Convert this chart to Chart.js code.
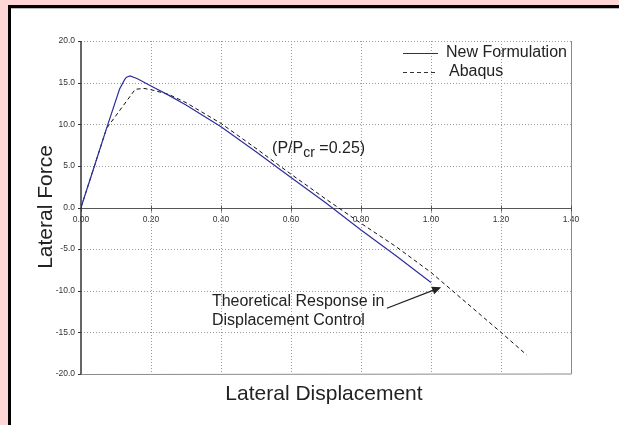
<!DOCTYPE html>
<html>
<head>
<meta charset="utf-8">
<script src="https://cdn.jsdelivr.net/npm/chart.js@4"></script>
<style>
  html, body { margin: 0; padding: 0; background: #ffd6d6; overflow: hidden; }
  #frame {
    position: absolute; left: 8px; top: 5px; width: 700px; height: 500px;
    background: #fff; border-top: 3px solid #000; border-left: 3px solid #000;
    box-shadow: inset 0 1px 0 #bbb;
  }
  #wrap { position: absolute; left: 0; top: 0; width: 619px; height: 425px; }
</style>
</head>
<body>
<div id="frame"></div>
<div id="wrap"><canvas id="chart" width="619" height="425"></canvas></div>
<script>
'use strict';

// displacement / force pairs for both analyses
var newFormX = [0, 0.04, 0.073, 0.11, 0.12, 0.125, 0.13, 0.14, 0.16, 0.2, 0.25, 0.3, 0.4, 0.5, 0.6, 0.7, 0.8, 0.9, 1.0];
var newFormY = [0, 5.2, 9.5, 14.2, 15.0, 15.4, 15.65, 15.8, 15.5, 14.6, 13.5, 12.3, 9.7, 6.7, 3.6, 0.55, -2.7, -5.8, -9.0];

var abaqusX = [0, 0.04, 0.073, 0.155, 0.18, 0.2, 0.25, 0.3, 0.4, 0.5, 0.6, 0.7, 0.8, 0.9, 1.0, 1.1, 1.2, 1.273];
var abaqusY = [0, 5.2, 9.5, 14.2, 14.3, 14.15, 13.6, 12.6, 10.1, 7.1, 4.0, 1.0, -1.9, -4.7, -7.8, -11.4, -15.0, -17.7];

var xTicks = [0, 0.2, 0.4, 0.6, 0.8, 1.0, 1.2, 1.4];
var yTicks = [-20, -15, -10, -5, 0, 5, 10, 15, 20];

var FONT = '"Liberation Sans", Arial, Helvetica, sans-serif';

function toPoints(xs, ys) {
    return xs.map(function (x, i) { return { x: x, y: ys[i] }; });
}

// dotted grid, plot border, tick marks across the zero line
var gridPlugin = {
    id: 'gridPlugin',
    beforeDatasetsDraw: function (chart) {
        var ctx = chart.ctx, a = chart.chartArea;
        var xs = chart.scales.x, ys = chart.scales.y;
        ctx.save();
        ctx.strokeStyle = '#9a9a9a';
        ctx.lineWidth = 1;
        ctx.setLineDash([1, 2]);
        xs.ticks.forEach(function (t) {
            if (t.value === 0 || t.value === 1.4) return;
            var px = Math.round(xs.getPixelForValue(t.value)) + 0.5;
            ctx.beginPath(); ctx.moveTo(px, a.top); ctx.lineTo(px, a.bottom); ctx.stroke();
        });
        ys.ticks.forEach(function (t) {
            if (t.value === 0 || t.value === -20) return;
            var py = Math.round(ys.getPixelForValue(t.value)) + 0.5;
            ctx.beginPath(); ctx.moveTo(a.left, py); ctx.lineTo(a.right, py); ctx.stroke();
        });
        ctx.setLineDash([]);
        ctx.strokeStyle = '#8a8a8a';
        ctx.beginPath();
        ctx.moveTo(Math.round(a.right) + 0.5, a.top);
        ctx.lineTo(Math.round(a.right) + 0.5, a.bottom);
        ctx.lineTo(a.left, Math.round(a.bottom) + 0.5);
        ctx.stroke();

        // zero line and left axis
        var y0 = Math.round(ys.getPixelForValue(0)) + 0.5;
        ctx.strokeStyle = '#555';
        ctx.beginPath(); ctx.moveTo(a.left, y0); ctx.lineTo(a.right, y0); ctx.stroke();
        xs.ticks.forEach(function (t) {
            var px = Math.round(xs.getPixelForValue(t.value)) + 0.5;
            ctx.beginPath(); ctx.moveTo(px, y0 - 3); ctx.lineTo(px, y0 + 3); ctx.stroke();
        });
        ctx.strokeStyle = '#333';
        ctx.lineWidth = 1.5;
        ctx.beginPath(); ctx.moveTo(a.left, a.top); ctx.lineTo(a.left, a.bottom); ctx.stroke();
        ctx.lineWidth = 1;
        ys.ticks.forEach(function (t) {
            var py = Math.round(ys.getPixelForValue(t.value)) + 0.5;
            ctx.beginPath(); ctx.moveTo(a.left - 3, py); ctx.lineTo(a.left, py); ctx.stroke();
        });
        ctx.restore();
    }
};

// axis titles, legend, notes and arrow
var notesPlugin = {
    id: 'notesPlugin',
    afterDraw: function (chart) {
        var ctx = chart.ctx;
        var xs = chart.scales.x, ys = chart.scales.y;
        ctx.save();
        ctx.fillStyle = '#222';

        ctx.font = '21px ' + FONT;
        ctx.textAlign = 'center';
        ctx.textBaseline = 'middle';
        ctx.fillText('Lateral Displacement', 324, 394);
        ctx.save();
        ctx.translate(46, 207);
        ctx.rotate(-Math.PI / 2);
        ctx.fillText('Lateral Force', 0, 0);
        ctx.restore();

        // legend
        ctx.font = '16px ' + FONT;
        ctx.textAlign = 'left';
        ctx.strokeStyle = '#333';
        ctx.lineWidth = 1;
        chart.data.datasets.forEach(function (ds, i) {
            var ly = 53 + i * 19;
            ctx.setLineDash(ds.borderDash || []);
            ctx.beginPath(); ctx.moveTo(403, ly + 0.5); ctx.lineTo(438, ly + 0.5); ctx.stroke();
            ctx.fillText(ds.label, 446 + i * 3, ly);
        });
        ctx.setLineDash([]);

        // load ratio note
        var px = xs.getPixelForValue(0.546), py = ys.getPixelForValue(6.6);
        ctx.textBaseline = 'alphabetic';
        ctx.font = '16px ' + FONT;
        ctx.fillText('(P/P', px, py);
        var w = ctx.measureText('(P/P').width;
        ctx.font = '14px ' + FONT;
        ctx.fillText('cr', px + w, py + 4);
        w += ctx.measureText('cr').width;
        ctx.font = '16px ' + FONT;
        ctx.fillText(' =0.25)', px + w, py);

        // displacement control note
        var tx = xs.getPixelForValue(0.374);
        ctx.textBaseline = 'middle';
        ctx.fillText('Theoretical Response in', tx, 302);
        ctx.fillText('Displacement Control', tx, 321);

        var x1 = xs.getPixelForValue(0.874), y1 = ys.getPixelForValue(-12.1);
        var x2 = xs.getPixelForValue(1.029), y2 = ys.getPixelForValue(-9.58);
        var ang = Math.atan2(y2 - y1, x2 - x1);
        ctx.strokeStyle = '#222';
        ctx.lineWidth = 1.3;
        ctx.beginPath(); ctx.moveTo(x1, y1);
        ctx.lineTo(x2 - 6 * Math.cos(ang), y2 - 6 * Math.sin(ang)); ctx.stroke();
        ctx.beginPath();
        ctx.moveTo(x2, y2);
        ctx.lineTo(x2 - 9 * Math.cos(ang) + 4 * Math.sin(ang), y2 - 9 * Math.sin(ang) - 4 * Math.cos(ang));
        ctx.lineTo(x2 - 9 * Math.cos(ang) - 4 * Math.sin(ang), y2 - 9 * Math.sin(ang) + 4 * Math.cos(ang));
        ctx.closePath();
        ctx.fill();
        ctx.restore();
    }
};

var chart = new Chart(document.getElementById('chart').getContext('2d'), {
    type: 'scatter',
    data: {
        datasets: [{
            label: 'New Formulation',
            data: toPoints(newFormX, newFormY),
            showLine: true,
            borderColor: '#2e2ea0',
            borderWidth: 1.2,
            pointRadius: 0,
            tension: 0
        }, {
            label: 'Abaqus',
            data: toPoints(abaqusX, abaqusY),
            showLine: true,
            borderColor: '#111',
            borderWidth: 1,
            borderDash: [4, 3],
            pointRadius: 0,
            tension: 0
        }]
    },
    options: {
        responsive: false,
        animation: false,
        events: [],
        layout: { padding: { left: 20, top: 41, right: 48, bottom: 51 } },
        plugins: { legend: { display: false }, tooltip: { enabled: false } },
        scales: {
            x: {
                type: 'linear',
                position: { y: 0 },
                min: 0, max: 1.4,
                afterBuildTicks: function (s) { s.ticks = xTicks.map(function (v) { return { value: v }; }); },
                ticks: {
                    color: '#333',
                    font: { family: FONT, size: 8.5 },
                    padding: 4,
                    maxRotation: 0,
                    callback: function (v) { return v.toFixed(2); }
                },
                grid: { display: false, drawTicks: true, tickLength: 3 },
                border: { display: false }
            },
            y: {
                type: 'linear',
                min: -20, max: 20,
                afterBuildTicks: function (s) { s.ticks = yTicks.map(function (v) { return { value: v }; }); },
                afterFit: function (s) { s.width = 61; },
                ticks: {
                    color: '#333',
                    font: { family: FONT, size: 8.5 },
                    padding: 2,
                    callback: function (v) { return v.toFixed(1); }
                },
                grid: { display: false, tickLength: 4 },
                border: { display: false }
            }
        }
    },
    plugins: [gridPlugin, notesPlugin]
});
</script>
</body>
</html>
